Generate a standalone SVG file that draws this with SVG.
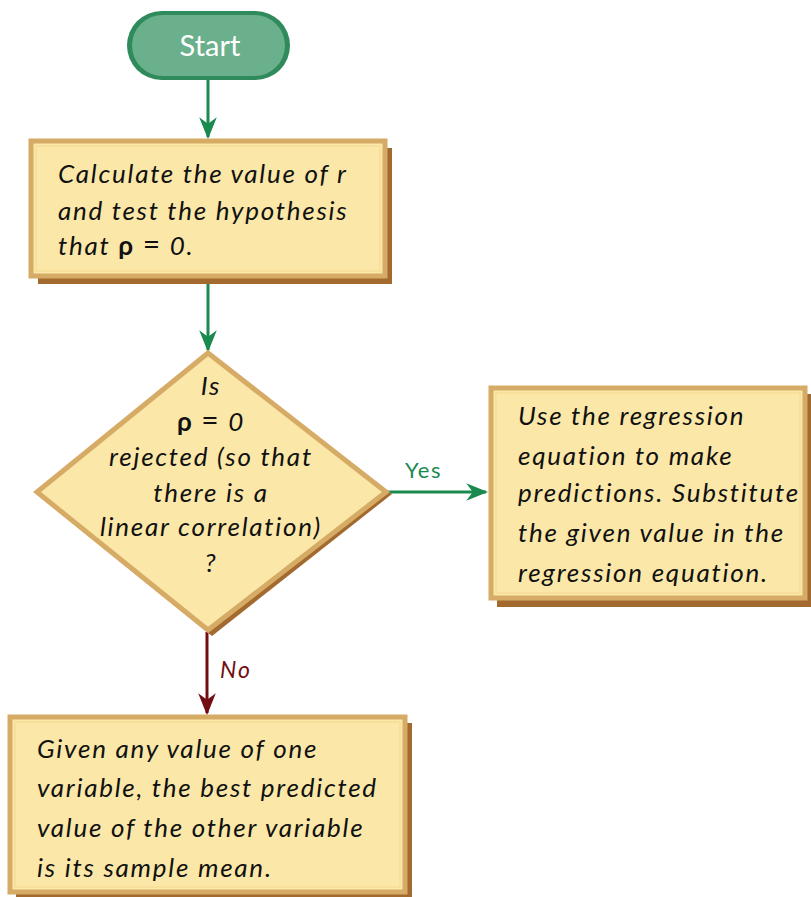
<svg xmlns="http://www.w3.org/2000/svg" width="811" height="897" viewBox="0 0 811 897">
<defs>
<style>
.box{fill:#fbe8a8;stroke:#d6ab66;stroke-width:5}
.inner{fill:none;stroke:#f6dc98;stroke-width:1.5}
.shadow{fill:#a36a30}
.t{font-family:Lato,"Open Sans",sans-serif;font-style:italic;font-size:26px;letter-spacing:1.75px;fill:#111}
.tc{text-anchor:middle}
.b{font-weight:bold;font-style:normal}
.g{stroke:#1b8a4f;stroke-width:3;fill:none}
.r{stroke:#720d12;stroke-width:3;fill:none}
</style>
<marker id="ag2" viewBox="0 0 10 10" refX="9" refY="5" markerWidth="22" markerHeight="22" orient="auto" markerUnits="userSpaceOnUse">
<path d="M0,1 L10,5 L0,9 L3,5 Z" fill="#1b8a4f"/>
</marker>
<marker id="ar2" viewBox="0 0 10 10" refX="9" refY="5" markerWidth="22" markerHeight="22" orient="auto" markerUnits="userSpaceOnUse">
<path d="M0,1 L10,5 L0,9 L3,5 Z" fill="#720d12"/>
</marker>
</defs>
<rect width="811" height="897" fill="#fff"/>
<g id="connectors">
<line class="g" x1="208" y1="80" x2="208" y2="137" marker-end="url(#ag2)"/>
<line class="g" x1="208" y1="284" x2="208" y2="350" marker-end="url(#ag2)"/>
<line class="g" x1="388" y1="492" x2="486" y2="492" marker-end="url(#ag2)"/>
<text x="405" y="478" font-family="Lato,sans-serif" font-size="22" letter-spacing="1.5" fill="#1b8a4f">Yes</text>
<line class="r" x1="207" y1="632" x2="207" y2="713" marker-end="url(#ar2)"/>
<text x="220" y="678" font-family="Lato,sans-serif" font-style="italic" font-size="23" letter-spacing="2" fill="#720d12">No</text>
</g>
<g id="start">
<rect x="127" y="11" width="163" height="69" rx="34.5" fill="#2f8a5c"/>
<rect x="132" y="15" width="153" height="61" rx="30.5" fill="#6bb08c"/>
<text x="210" y="56" text-anchor="middle" font-family="Lato,sans-serif" font-size="29" fill="#fff">Start</text>
</g>
<g id="calc">
<rect class="shadow" x="38" y="148" width="354" height="136"/>
<rect class="box" x="31" y="141" width="354" height="135"/>
<rect class="inner" x="36" y="146" width="344" height="125"/>
<text class="t" x="58" y="183">Calculate the value of r</text>
<text class="t" x="58" y="220">and test the hypothesis</text>
<text class="t" x="58" y="255">that <tspan class="b">ρ</tspan> <tspan font-style="normal" font-size="30">=</tspan> 0.</text>
</g>
<g id="decision">
<polygon class="shadow" points="213,356 392,494 212,636 40,497"/>
<polygon class="box" points="208,353 386,492 208,630 37,492"/>
<text class="t tc" x="211" y="395">Is</text>
<text class="t tc" x="211" y="431"><tspan class="b">ρ</tspan> <tspan font-style="normal" font-size="30">=</tspan> 0</text>
<text class="t tc" x="211" y="466">rejected (so that</text>
<text class="t tc" x="211" y="502">there is a</text>
<text class="t tc" x="211" y="536">linear correlation)</text>
<text class="t tc" x="211" y="572">?</text>
</g>
<g id="yes-box">
<rect class="shadow" x="497" y="394" width="314" height="213"/>
<rect class="box" x="491" y="388" width="314" height="210"/>
<rect class="inner" x="496" y="393" width="304" height="200"/>
<text class="t" x="518" y="425">Use the regression</text>
<text class="t" x="518" y="465">equation to make</text>
<text class="t" x="518" y="502">predictions. Substitute</text>
<text class="t" x="518" y="542">the given value in the</text>
<text class="t" x="518" y="582">regression equation.</text>
</g>
<g id="no-box">
<rect class="shadow" x="16" y="723" width="396" height="174"/>
<rect class="box" x="10" y="717" width="395" height="175"/>
<rect class="inner" x="15" y="722" width="385" height="165"/>
<text class="t" x="37" y="758">Given any value of one</text>
<text class="t" x="37" y="797">variable, the best predicted</text>
<text class="t" x="37" y="837">value of the other variable</text>
<text class="t" x="37" y="877">is its <tspan font-style="oblique">sample mean.</tspan></text>
</g>
</svg>
